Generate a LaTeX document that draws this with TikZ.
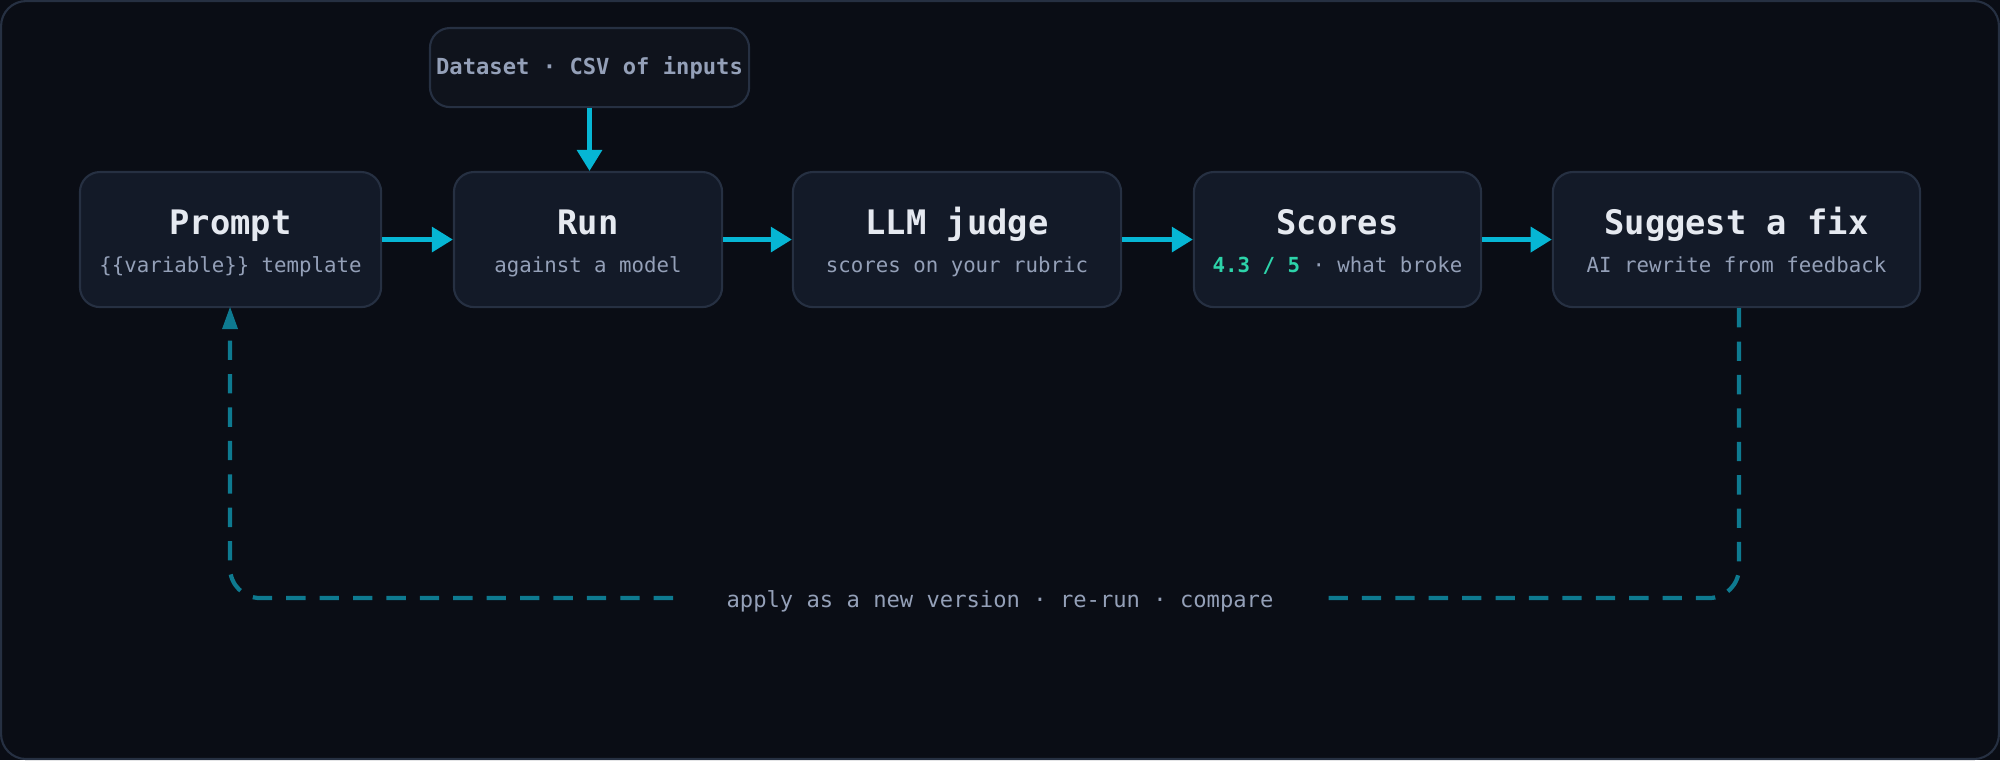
\documentclass[tikz,border=0pt]{standalone}
\usepackage{fontspec}
\setmonofont{DejaVu Sans Mono}
\usetikzlibrary{arrows.meta}
\definecolor{bg}{HTML}{0A0D15}
\definecolor{boxfill}{HTML}{131A28}
\definecolor{boxline}{HTML}{263042}
\definecolor{titlec}{HTML}{E5E9F0}
\definecolor{subc}{HTML}{94A0B8}
\definecolor{arrowc}{HTML}{06B6D4}
\definecolor{loopc}{HTML}{0E7A90}
\definecolor{greenc}{HTML}{2DD4AA}
\definecolor{dsfill}{HTML}{0F131C}
\tikzset{
  box/.style={draw=boxline, line width=0.6pt, fill=boxfill, rounded corners=0.2cm, inner sep=0pt},
  ttl/.style={text=titlec, anchor=base, font=\ttfamily\bfseries\fontsize{9.6}{11}\selectfont},
  sub/.style={text=subc, anchor=base, font=\ttfamily\fontsize{5.9}{7}\selectfont},
  flow/.style={draw=arrowc, line width=1.3pt, -{Triangle[length=6pt,width=7pt]}},
  loop/.style={draw=loopc, line width=1.2pt, dash pattern=on 5.5pt off 4pt, rounded corners=0.3cm},
}
\begin{document}
\begin{tikzpicture}[x=0.01cm,y=-0.01cm]
\fill[bg] (0,0) rectangle (2000,760);
\draw[boxline, line width=0.6pt, rounded corners=0.25cm] (1,1) rectangle (1999,759);
% nodes
\node[box, minimum width=3.01cm, minimum height=1.35cm] (prompt) at (230.5,239.5) {};
\node[box, minimum width=2.68cm, minimum height=1.35cm] (run) at (588,239.5) {};
\node[box, minimum width=3.28cm, minimum height=1.35cm] (judge) at (957,239.5) {};
\node[box, minimum width=2.87cm, minimum height=1.35cm] (scores) at (1337.5,239.5) {};
\node[box, minimum width=3.67cm, minimum height=1.35cm] (fix) at (1736.5,239.5) {};
\node[box, fill=dsfill, minimum width=3.19cm, minimum height=0.79cm] (data) at (589.5,67.5) {};
\node[text=subc, font=\ttfamily\bfseries\fontsize{6.3}{8}\selectfont] at (589.5,68) {Dataset · CSV of inputs};
% labels
\foreach \n/\t/\s in {prompt/Prompt/{\{\{variable\}\} template}, run/Run/{against a model}, judge/LLM judge/{scores on your rubric}, fix/Suggest a fix/{AI rewrite from feedback}}{
  \node[ttl] at (\n.center |- 0,234) {\t};
  \node[sub] at (\n.center |- 0,272) {\s};
}
\node[ttl] at (scores.center |- 0,234) {Scores};
\node[sub] at (scores.center |- 0,272) {\textcolor{greenc}{\bfseries 4.3 / 5} · what broke};
% arrows
\draw[flow] (prompt.east) -- (run.west);
\draw[flow] (run.east) -- (judge.west);
\draw[flow] (judge.east) -- (scores.west);
\draw[flow] (scores.east) -- (fix.west);
\draw[flow] (data.south) -- (run.north -| data.south);
% loop
\node[sub, anchor=center, font=\ttfamily\fontsize{6.3}{8}\selectfont] (lbl) at (1000,601) {apply as a new version · re-run · compare};
\coordinate (la) at (673,598);
\coordinate (lb) at (1325,598);
\draw[loop] (fix.south -| 1739,0) -- (1739,598) -- (lb);
\draw[loop] (la) -- (230,598) -- (230,320);
\draw[draw=none, fill=loopc] (230,307) -- (222,329) -- (238,329) -- cycle;
\end{tikzpicture}
\end{document}
